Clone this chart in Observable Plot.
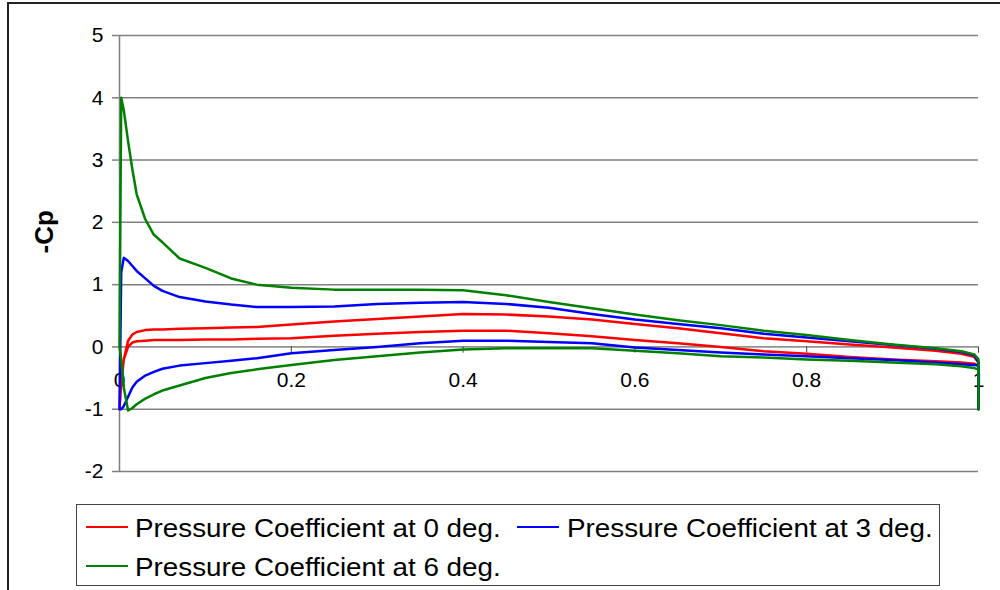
<!DOCTYPE html>
<html>
<head>
<meta charset="utf-8">
<script src="https://cdn.jsdelivr.net/npm/d3@7"></script>
<script src="https://cdn.jsdelivr.net/npm/@observablehq/plot@0.6"></script>
<style>
  body { margin: 0; background: #fff; font-family: "Liberation Sans", Arial, sans-serif; }
  #wrap { position: relative; width: 1000px; height: 590px; overflow: hidden; background: #fff; }
  #frame { position: absolute; left: 7px; top: 2px; width: 1000px; height: 600px;
           border-left: 2px solid #222; border-top: 2px solid #222; pointer-events: none; }
  #chart { position: absolute; left: 0; top: 0; }
  #legend { position: absolute; left: 76px; top: 504px; width: 862px; height: 80px;
            border: 1px solid #444; background: #fff; }
  .swatch { position: absolute; width: 42px; height: 0; border-top: 2.5px solid; }
  .lab { position: absolute; white-space: nowrap; font-size: 25.5px; line-height: 30px;
         color: #000; transform: scaleX(1.09); transform-origin: 0 50%; }
</style>
</head>
<body>
<div id="wrap">
  <div id="chart"></div>
  <div id="legend"></div>
  <div id="frame"></div>
</div>
<script>
// chord positions (x/c) shared by upper and lower surfaces
const xPos = [0, 0.002, 0.005, 0.01, 0.015, 0.02, 0.03, 0.04, 0.05, 0.07, 0.1, 0.13, 0.16, 0.2, 0.25, 0.3,
              0.35, 0.4, 0.45, 0.5, 0.55, 0.6, 0.65, 0.7, 0.75, 0.8, 0.85, 0.9, 0.95, 0.98, 0.995, 1];

// -Cp, 0 deg
const cp0Upper = [-1.0, -0.6, -0.2, 0.1, 0.2, 0.24, 0.27, 0.28, 0.28, 0.29, 0.30, 0.31, 0.32, 0.36, 0.41, 0.45,
                  0.49, 0.53, 0.52, 0.49, 0.44, 0.37, 0.30, 0.22, 0.14, 0.09, 0.04, -0.01, -0.06, -0.11, -0.16, -0.25];
const cp0Lower = [-1.0, -0.5, -0.2, 0.0, 0.07, 0.09, 0.10, 0.11, 0.11, 0.11, 0.12, 0.12, 0.13, 0.14, 0.18, 0.21,
                  0.24, 0.26, 0.26, 0.22, 0.17, 0.11, 0.06, 0.0, -0.07, -0.11, -0.16, -0.2, -0.23, -0.25, -0.27, -0.3];
// -Cp, 3 deg
const cp3Upper = [-1.0, 1.2, 1.43, 1.38, 1.3, 1.22, 1.1, 0.98, 0.9, 0.8, 0.73, 0.68, 0.64, 0.64, 0.65, 0.69,
                  0.71, 0.72, 0.69, 0.63, 0.53, 0.44, 0.37, 0.30, 0.21, 0.15, 0.09, 0.03, -0.03, -0.08, -0.13, -0.25];
const cp3Lower = [-1.0, -1.0, -0.95, -0.8, -0.65, -0.56, -0.46, -0.4, -0.35, -0.3, -0.26, -0.22, -0.18, -0.1, -0.05, 0.0,
                  0.06, 0.1, 0.1, 0.08, 0.06, -0.01, -0.05, -0.09, -0.12, -0.15, -0.18, -0.21, -0.25, -0.28, -0.29, -0.3];
// -Cp, 6 deg
const cp6Upper = [0.0, 4.0, 3.8, 3.3, 2.85, 2.45, 2.05, 1.8, 1.68, 1.42, 1.27, 1.1, 1.0, 0.95, 0.92, 0.92,
                  0.92, 0.91, 0.83, 0.72, 0.62, 0.52, 0.43, 0.35, 0.26, 0.19, 0.11, 0.04, -0.02, -0.07, -0.12, -0.2];
const cp6Lower = [0.0, -0.2, -0.65, -1.02, -0.98, -0.92, -0.83, -0.76, -0.7, -0.62, -0.5, -0.42, -0.36, -0.29, -0.21, -0.15,
                  -0.09, -0.04, -0.02, -0.02, -0.02, -0.06, -0.1, -0.15, -0.17, -0.2, -0.22, -0.25, -0.28, -0.31, -0.34, -0.36];

// first value of each series at the trailing edge (x = 1)
const trailingEdgeStart = [-1, -1, -1];

const seriesNames = ["Pressure Coefficient at 0 deg.", "Pressure Coefficient at 3 deg.", "Pressure Coefficient at 6 deg."];
const seriesColors = ["#ff0000", "#0000ff", "#008000"];

const yTicks = [-2, -1, 0, 1, 2, 3, 4, 5];
const xTicks = [0, 0.2, 0.4, 0.6, 0.8, 1];
const xTickLabels = ["0", "0.2", "0.4", "0.6", "0.8", "1"];
const yLabel = "-Cp";

function buildRows(upper, lower, teStart, name) {
  const rows = [{x: 1, cp: teStart, name}];
  for (let i = xPos.length - 1; i >= 0; i--) rows.push({x: xPos[i], cp: upper[i], name});
  for (let i = 1; i < xPos.length; i++) rows.push({x: xPos[i], cp: lower[i], name});
  return rows;
}

const surfaces = [[cp0Upper, cp0Lower], [cp3Upper, cp3Lower], [cp6Upper, cp6Lower]];
const seriesRows = surfaces.map(([u, l], k) => buildRows(u, l, trailingEdgeStart[k], seriesNames[k]));

const font = "'Liberation Sans', Arial, sans-serif";

const chart = Plot.plot({
  width: 1000,
  height: 500,
  marginLeft: 119,
  marginRight: 22,
  marginTop: 35,
  marginBottom: 29,
  x: {domain: [0, 1], axis: null},
  y: {domain: [-2, 5]},
  style: {fontFamily: font, background: "transparent", color: "#000", overflow: "visible"},
  marks: [
    Plot.ruleY(yTicks.filter(d => d !== 0), {y: d => d, stroke: "#808080", strokeWidth: 1.5}),
    Plot.axisY({ticks: yTicks, tickSize: 7, tickPadding: 9, tickFormat: d => String(d),
                fontSize: 21, stroke: "#808080", strokeWidth: 1.5, label: null}),
    Plot.ruleX([0], {x: d => d, stroke: "#808080", strokeWidth: 1.5}),
    Plot.ruleY([0], {y: d => d, stroke: "#404040", strokeWidth: 1}),
    Plot.ruleX(xTicks, {x: d => d, y1: 0, y2: -0.1, stroke: "#404040", strokeWidth: 1}),
    Plot.text(xTicks, {x: d => d, y: 0, text: (d, i) => xTickLabels[i], dy: 33, fontSize: 21, fill: "#000"}),
    Plot.text([yLabel], {text: d => d, frameAnchor: "left", dx: -75, rotate: -90,
                         fontSize: 26, fontWeight: "bold", fill: "#000"}),
    ...seriesRows.map((rows, k) => Plot.line(rows, {x: "x", y: "cp", stroke: seriesColors[k], strokeWidth: 2.5, curve: "linear"}))
  ]
});
document.getElementById("chart").appendChild(chart);

// legend
const legendLayout = [
  {sw: [9, 20.7], tx: [58, 7.8]},
  {sw: [440, 20.7], tx: [489.7, 7.8]},
  {sw: [9, 59.7], tx: [58, 47.3]}
];
const legend = document.getElementById("legend");
seriesNames.forEach((name, k) => {
  const sw = document.createElement("div");
  sw.className = "swatch";
  sw.style.left = legendLayout[k].sw[0] + "px";
  sw.style.top = legendLayout[k].sw[1] + "px";
  sw.style.borderTopColor = seriesColors[k];
  legend.appendChild(sw);
  const lab = document.createElement("div");
  lab.className = "lab";
  lab.style.left = legendLayout[k].tx[0] + "px";
  lab.style.top = legendLayout[k].tx[1] + "px";
  lab.textContent = name;
  legend.appendChild(lab);
});
</script>
</body>
</html>
